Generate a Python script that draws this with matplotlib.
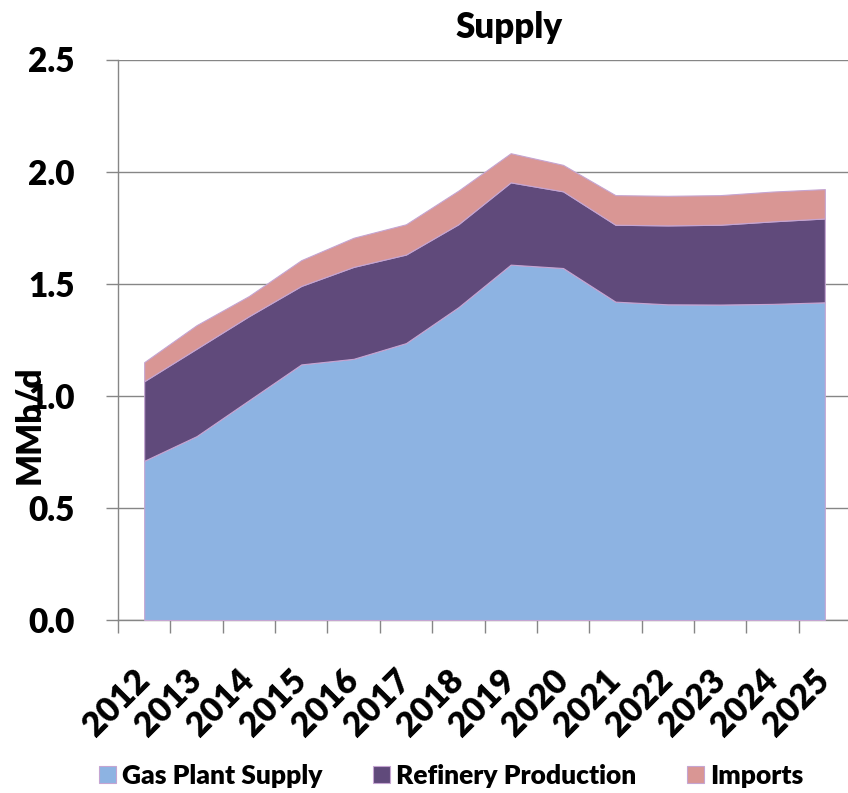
import matplotlib
matplotlib.use("Agg")
import matplotlib.pyplot as plt
from matplotlib.ticker import FixedLocator, FuncFormatter
import numpy as np

plt.rcParams['font.family'] = ['Lato', 'DejaVu Sans']
W = 'heavy'

years = ['2012', '2013', '2014', '2015', '2016', '2017', '2018',
         '2019', '2020', '2021', '2022', '2023', '2024', '2025']
gas_plant_supply = [0.71, 0.82, 0.98, 1.14, 1.165, 1.235, 1.395,
                    1.585, 1.57, 1.42, 1.408, 1.407, 1.41, 1.417]
refinery_production = [0.355, 0.39, 0.375, 0.35, 0.41, 0.395, 0.37,
                       0.367, 0.342, 0.343, 0.352, 0.356, 0.368, 0.374]
imports = [0.085, 0.105, 0.09, 0.115, 0.13, 0.135, 0.15,
           0.13, 0.118, 0.132, 0.132, 0.132, 0.133, 0.131]

series_names = ['Gas Plant Supply', 'Refinery Production', 'Imports']
colors = ['#8DB3E2', '#604A7B', '#D99694']
grey = '#868686'

fig = plt.figure(figsize=(8.48, 7.93), dpi=100)
ax = fig.add_axes([118 / 848, (793 - 620) / 793, (851 - 118) / 848, (620 - 59.5) / 793])

x = np.arange(len(years))
ax.stackplot(x, gas_plant_supply, refinery_production, imports,
             colors=colors, labels=series_names,
             edgecolor='#C5A5D2', linewidth=0.8, zorder=3)

ax.set_xlim(-0.5, len(years) - 0.5)
ax.set_ylim(0, 2.5)

# y axis
ax.set_yticks(np.arange(0, 2.51, 0.5))
ax.yaxis.set_major_formatter(FuncFormatter(lambda v, p: f'{v:.1f}'))
ax.grid(axis='y', color=grey, linewidth=1.0, zorder=0)
ax.set_axisbelow(True)
ax.tick_params(axis='y', direction='out', length=9, width=1, color=grey,
               pad=22, labelsize=24)

# x axis: labels at category centres, tick marks at category boundaries
ax.set_xticks(x)
ax.set_xticklabels(years, rotation=45, ha='right', va='center',
                   rotation_mode='anchor')
ax.xaxis.set_minor_locator(FixedLocator(np.arange(-0.5, len(years), 1.0)))
ax.tick_params(axis='x', which='major', length=0, pad=40, labelsize=24.5)
ax.tick_params(axis='x', which='minor', direction='out', length=9,
               width=1, color=grey)

for lab in ax.get_xticklabels() + ax.get_yticklabels():
    lab.set_fontweight(W)

for side in ('top', 'right'):
    ax.spines[side].set_visible(False)
for side in ('left', 'bottom'):
    ax.spines[side].set_color(grey)
    ax.spines[side].set_linewidth(1.0)

fig.text(509 / 848, (793 - 28) / 793, 'Supply', ha='center', va='center',
         fontsize=25, fontweight=W)
fig.text(29 / 848, (793 - 425) / 793, 'MMb/d', ha='center', va='center',
         rotation=90, fontsize=24, fontweight=W)

handles, labels = ax.get_legend_handles_labels()
fig.legend(handles, labels, loc='center', ncol=3,
           bbox_to_anchor=(451 / 848, (793 - 776) / 793),
           frameon=False, handlelength=0.64, handleheight=0.64,
           handletextpad=0.25, columnspacing=1.9,
           prop={'weight': W, 'size': 19})

fig.savefig('out.png', dpi=100)
